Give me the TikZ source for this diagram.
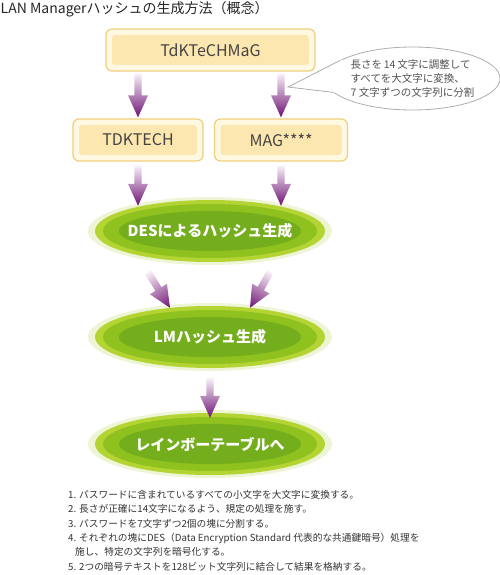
\documentclass[tikz,border=0pt]{standalone}
\usepackage{fontspec}
\setmainfont{Noto Sans CJK JP}
\usetikzlibrary{shapes.geometric,calc}

\definecolor{boxline}{HTML}{F0CF7C}
\definecolor{boxfill}{HTML}{FFF8E2}
\definecolor{boxband}{HTML}{FDE7B0}
\definecolor{glowgreen}{HTML}{EEF5D6}
\definecolor{limegreen}{HTML}{B4D434}
\definecolor{bodygreen}{HTML}{8FC21F}
\definecolor{coregreen}{HTML}{74AE1C}
\definecolor{arrowlight}{HTML}{F8F0F8}
\definecolor{arrowmid}{HTML}{C08CC2}
\definecolor{arrowdark}{HTML}{6E1273}
\definecolor{textgray}{HTML}{444444}

% gradient arrow between two named coordinates
\newcommand\gradarrow[2]{%
  \pgfpointdiff{\pgfpointanchor{#1}{center}}{\pgfpointanchor{#2}{center}}%
  \pgfgetlastxy\arrdx\arrdy
  \pgfmathsetmacro\arrang{atan2(\arrdy,\arrdx)}%
  \pgfmathsetmacro\arrlen{veclen(\arrdx,\arrdy)}%
  \begin{scope}[transform canvas={shift={(#1)}, rotate=\arrang}]
    \shade[left color=arrowlight, middle color=arrowmid, right color=arrowdark]
      (0,-3.6) -- ({\arrlen-22},-3.6) -- ({\arrlen-22},-10) -- (\arrlen,0)
      -- ({\arrlen-22},10) -- ({\arrlen-22},3.6) -- (0,3.6) -- cycle;
  \end{scope}}

\begin{document}
\begin{tikzpicture}[x=1pt,y=-1pt,
    strbox/.style={draw=boxline, line width=1.2pt, fill=boxfill, rounded corners=6pt,
      minimum height=42pt, inner sep=0pt, text=textgray, font=\fontsize{16}{16}\selectfont,
      path picture={\fill[boxband, rounded corners=3pt]
        ([shift={(6pt,-6pt)}]path picture bounding box.north west) rectangle
        ([shift={(-6pt,6pt)}]path picture bounding box.south east);}},
    hashnode/.style={ellipse, fill=glowgreen, minimum width=244pt, minimum height=68pt,
      inner sep=0pt, text=white, font=\bfseries\fontsize{15}{15}\selectfont,
      path picture={
        \fill[limegreen] (path picture bounding box.center) ellipse [x radius=115pt, y radius=31pt];
        \fill[bodygreen] (path picture bounding box.center) ellipse [x radius=107pt, y radius=27pt];
        \fill[coregreen] (path picture bounding box.center) ellipse [x radius=91pt, y radius=20pt];}}]
  \useasboundingbox (0,0) rectangle (500,575);

  % Title
  \node[anchor=west, inner sep=0pt, font=\fontsize{14}{14}\selectfont, text=black!85]
    (title) at (0.5,9) {LAN Managerハッシュの生成方法（概念）};

  % Password boxes
  \node[strbox, minimum width=209pt] (pw) at (210.5,50) {TdKTeCHMaG};
  \node[strbox, minimum width=130pt] (tdk) at (138,140) {TDKTECH};
  \node[strbox, minimum width=133pt] (mag) at (281,140) {MAG****};

  % Callout
  \node[ellipse, draw=black!32, line width=0.8pt, fill=white, minimum width=175pt,
    minimum height=63pt, inner sep=0pt, align=left, text=black!68,
    font=\fontsize{10.5}{14}\selectfont]
    (note) at (412.5,78.5) {長さを\,14\,文字に調整して\\すべてを大文字に変換、\\7 文字ずつの文字列に分割};
  \coordinate (tip) at (288,87);
  \fill[white] (tip) -- (note.166) -- ([xshift=4pt]note.166) -- ([xshift=4pt]note.190)
    -- (note.190) -- cycle;
  \draw[black!32, line width=0.8pt] (note.166) -- (tip) -- (note.190);

  % Hash steps
  \node[hashnode] (des) at (210,231) {DESによるハッシュ生成};
  \node[hashnode] (lm) at (210,337) {LMハッシュ生成};
  \node[hashnode] (rt) at (210,444) {レインボーテーブルへ};

  % Arrows
  \coordinate (s1) at ($(pw.south -| tdk.north)+(0,2)$);
  \coordinate (e1) at ($(tdk.north)+(0,-1)$);
  \coordinate (s2) at ($(pw.south -| mag.north)+(0,2)$);
  \coordinate (e2) at ($(mag.north)+(0,-1)$);
  \coordinate (s3) at ($(tdk.south)+(0,4)$);
  \coordinate (e3) at ($(des.north -| tdk.south)+(0,9)$);
  \coordinate (s4) at ($(mag.south)+(0,4)$);
  \coordinate (e4) at ($(des.north -| mag.south)+(0,9)$);
  \coordinate (s5) at ($(des.south)+(-62,7)$);
  \coordinate (e5) at ($(lm.north)+(-40,5)$);
  \coordinate (s6) at ($(des.south)+(60,7)$);
  \coordinate (e6) at ($(lm.north)+(40,5)$);
  \coordinate (s7) at ($(lm.south)+(0,7)$);
  \coordinate (e7) at ($(rt.north)+(0,8)$);
  \foreach \n in {1,...,7} {\gradarrow{s\n}{e\n}}

  % Notes
  \node[anchor=north west, align=left, inner sep=0pt, text=black!80,
    font=\fontsize{9.7}{14.4}\selectfont] (steps) at (68,490) {%
    1. パスワードに含まれているすべての小文字を大文字に変換する。\\
    2. 長さが正確に14文字になるよう、規定の処理を施す。\\
    3. パスワードを7文字ずつ2個の塊に分割する。\\
    4. それぞれの塊にDES（Data Encryption Standard 代表的な共通鍵暗号）処理を\\
    \hspace*{7pt}施し、特定の文字列を暗号化する。\\
    5. 2つの暗号テキストを128ビット文字列に結合して結果を格納する。};
\end{tikzpicture}
\end{document}
